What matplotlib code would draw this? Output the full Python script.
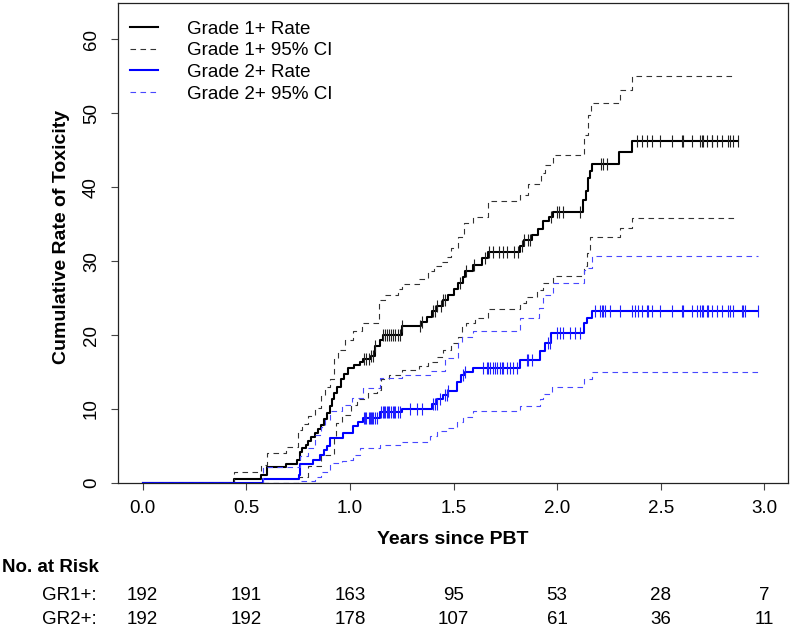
import numpy as np
import matplotlib
matplotlib.use("Agg")
import matplotlib.pyplot as plt
import matplotlib.transforms as mtransforms

plt.rcParams["font.family"] = ["Liberation Sans", "DejaVu Sans"]

# ============================================================
# Data
# ============================================================
# Grade 1+ cumulative rate: times where the curve steps, new value after step
G1_T = [0.44, 0.57, 0.60, 0.69, 0.745, 0.76, 0.77, 0.79, 0.80, 0.81, 0.83, 0.845,
        0.86, 0.875, 0.89, 0.905, 0.915, 0.925, 0.94, 0.955, 0.97, 0.99, 1.02, 1.05,
        1.065, 1.10, 1.12, 1.145, 1.16, 1.25, 1.345, 1.37, 1.394, 1.418, 1.45, 1.475,
        1.50, 1.523, 1.545, 1.556, 1.595, 1.636, 1.667, 1.821, 1.84, 1.88, 1.91, 1.93,
        1.96, 1.979, 2.126, 2.138, 2.151, 2.159, 2.167, 2.30, 2.36]
G1_V = [0.52, 1.04, 2.1, 2.6, 3.1, 4.2, 4.7, 5.2, 5.7, 6.2, 6.8, 7.3,
        7.8, 8.6, 9.4, 10.4, 11.4, 12.2, 13.0, 14.0, 14.8, 15.5, 16.0, 16.3,
        16.7, 17.2, 18.5, 19.4, 20.0, 21.2, 21.8, 22.5, 23.2, 23.9, 24.8, 25.4,
        26.2, 27.0, 27.8, 28.6, 29.5, 30.4, 31.2, 32.0, 32.9, 33.5, 34.3, 35.4,
        36.0, 36.6, 38.3, 39.5, 41.2, 42.2, 43.1, 44.7, 46.3]
G1_END = 2.875

G1_UP_T = [0.44, 0.57, 0.60, 0.69, 0.748, 0.77, 0.80, 0.83, 0.861, 0.88, 0.903, 0.923,
           0.944, 0.975, 1.016, 1.057, 1.14, 1.17, 1.232, 1.25, 1.335, 1.376, 1.407,
           1.438, 1.469, 1.49, 1.52, 1.552, 1.593, 1.665, 1.82, 1.86, 1.923, 1.943,
           1.978, 2.129, 2.149, 2.164, 2.304, 2.36]
G1_UP_V = [1.5, 2.5, 4.0, 4.8, 7.2, 8.0, 9.0, 10.1, 11.7, 13.0, 14.0, 16.7,
           18.0, 19.4, 20.5, 21.7, 24.8, 25.4, 26.2, 26.9, 27.6, 28.6, 29.3,
           29.9, 30.6, 31.8, 33.3, 35.2, 36.0, 38.1, 39.0, 40.4, 41.9, 43.0,
           44.3, 47.1, 49.8, 51.4, 53.2, 55.0]
G1_UP_END = 2.86

G1_LO_T = [0.748, 0.80, 0.861, 0.923, 0.933, 0.964, 1.006, 1.036, 1.088, 1.129, 1.15,
           1.19, 1.253, 1.335, 1.376, 1.418, 1.449, 1.49, 1.52, 1.541, 1.562, 1.603,
           1.665, 1.82, 1.85, 1.902, 1.933, 1.978, 2.129, 2.143, 2.159, 2.304, 2.36]
G1_LO_V = [0.8, 2.25, 3.8, 6.3, 8.1, 9.2, 10.6, 11.3, 12.2, 12.6, 14.0,
           14.6, 15.3, 15.8, 16.4, 17.1, 18.0, 18.9, 19.8, 21.2, 21.6, 22.3,
           23.5, 24.3, 25.2, 26.1, 27.0, 28.0, 29.3, 31.1, 33.3, 34.5, 35.8]
G1_LO_END = 2.86

G1_CENS = [1.07, 1.08, 1.09, 1.10, 1.11, 1.12, 1.16, 1.17, 1.18, 1.19, 1.20, 1.21,
           1.22, 1.23, 1.24, 1.25, 1.34, 1.35, 1.40, 1.41, 1.42, 1.44, 1.45, 1.46,
           1.53, 1.56, 1.60, 1.65, 1.67, 1.69, 1.72, 1.74, 1.76, 1.79, 1.81, 1.83,
           1.84, 1.86, 1.87, 1.97, 2.00, 2.01, 2.03, 2.11, 2.21, 2.22, 2.24, 2.384,
           2.408, 2.435, 2.456, 2.497, 2.553, 2.604, 2.609, 2.649, 2.689, 2.697,
           2.705, 2.721, 2.745, 2.749, 2.77, 2.794, 2.826, 2.834, 2.847, 2.874]

# Grade 2+ cumulative rate
G2_T = [0.583, 0.752, 0.757, 0.824, 0.856, 0.875, 0.888, 0.904, 0.968, 1.016, 1.04,
        1.065, 1.145, 1.25, 1.394, 1.42, 1.45, 1.474, 1.515, 1.535, 1.555, 1.595,
        1.82, 1.916, 1.94, 1.972, 2.129, 2.145, 2.166]
G2_V = [0.52, 1.04, 2.6, 3.15, 3.8, 4.4, 5.0, 6.1, 6.8, 7.65, 8.2,
        8.8, 9.6, 10.0, 10.7, 11.3, 11.9, 12.4, 13.7, 14.6, 15.0, 15.5,
        16.6, 17.8, 18.9, 20.3, 21.6, 22.3, 23.2]
G2_END = 2.971

G2_UP_T = [0.583, 0.758, 0.80, 0.83, 0.861, 0.882, 0.904, 0.964, 1.008, 1.065, 1.145,
           1.25, 1.386, 1.458, 1.523, 1.54, 1.595, 1.82, 1.912, 1.933, 1.978, 2.129,
           2.145, 2.166]
G2_UP_V = [2.2, 3.7, 4.7, 6.5, 7.6, 8.5, 9.7, 10.6, 11.5, 12.8, 14.2,
           14.6, 15.1, 16.9, 18.9, 19.8, 20.5, 22.3, 23.6, 25.4, 27.0, 28.8,
           29.1, 30.7]
G2_UP_END = 2.971

G2_LO_T = [0.758, 0.83, 0.861, 0.904, 0.964, 0.985, 1.016, 1.049, 1.145, 1.25, 1.386,
           1.419, 1.467, 1.515, 1.547, 1.595, 1.82, 1.916, 1.932, 1.973, 2.129, 2.166]
G2_LO_V = [0.3, 0.8, 1.5, 2.7, 3.0, 3.15, 3.8, 4.7, 5.2, 5.6, 6.3,
           7.0, 7.4, 8.3, 8.9, 9.7, 10.4, 11.3, 12.1, 13.0, 14.0, 15.0]
G2_LO_END = 2.971

G2_CENS = [1.07, 1.075, 1.08, 1.09, 1.095, 1.10, 1.105, 1.11, 1.12, 1.13, 1.15,
           1.16, 1.165, 1.17, 1.18, 1.185, 1.19, 1.20, 1.21, 1.215, 1.22, 1.23,
           1.24, 1.29, 1.325, 1.346, 1.403, 1.411, 1.419, 1.435, 1.459, 1.467,
           1.475, 1.547, 1.556, 1.644, 1.66, 1.668, 1.676, 1.692, 1.70, 1.708,
           1.724, 1.732, 1.74, 1.757, 1.773, 1.789, 1.805, 1.853, 1.861, 1.877,
           1.958, 1.966, 1.998, 2.014, 2.03, 2.062, 2.087, 2.11, 2.183, 2.207,
           2.215, 2.223, 2.231, 2.255, 2.303, 2.36, 2.376, 2.392, 2.408, 2.432,
           2.44, 2.456, 2.497, 2.553, 2.604, 2.609, 2.649, 2.673, 2.689, 2.697,
           2.705, 2.721, 2.729, 2.745, 2.77, 2.794, 2.826, 2.834, 2.847, 2.891,
           2.899, 2.907, 2.971]

RISK_TIMES = [0.0, 0.5, 1.0, 1.5, 2.0, 2.5, 3.0]
RISK_GR1 = [192, 191, 163, 95, 53, 28, 7]
RISK_GR2 = [192, 192, 178, 107, 61, 36, 11]

LEGEND_LABELS = ["Grade 1+ Rate", "Grade 1+ 95% CI", "Grade 2+ Rate", "Grade 2+ 95% CI"]


# ============================================================
# Helpers
# ============================================================
def step_xy(times, values, end):
    x = np.concatenate([[0.0], times, [end]])
    y = np.concatenate([[0.0], values, [values[-1]]])
    return x, y


def value_at(times, values, t):
    idx = np.searchsorted(times, t, side="right") - 1
    vals = np.concatenate([[0.0], values])
    return vals[idx + 1]


# ============================================================
# Plot
# ============================================================
fig = plt.figure(figsize=(7.92, 6.26), dpi=100)
ax = fig.add_axes([118 / 792, 1 - 483 / 626, 670 / 792, 480 / 626])

DASH = (5, 4)

x, y = step_xy(G1_T, G1_V, G1_END)
ax.step(x, y, where="post", color="black", lw=1.5, label=LEGEND_LABELS[0])
x, y = step_xy(G1_UP_T, G1_UP_V, G1_UP_END)
ax.step(x, y, where="post", color="#333333", lw=0.8, dashes=DASH, label=LEGEND_LABELS[1])
x, y = step_xy(G1_LO_T, G1_LO_V, G1_LO_END)
ax.step(x, y, where="post", color="#333333", lw=0.8, dashes=DASH)

x, y = step_xy(G2_T, G2_V, G2_END)
ax.step(x, y, where="post", color="#0000ff", lw=1.5, label=LEGEND_LABELS[2])
x, y = step_xy(G2_UP_T, G2_UP_V, G2_UP_END)
ax.step(x, y, where="post", color="#4848ff", lw=0.8, dashes=DASH, label=LEGEND_LABELS[3])
x, y = step_xy(G2_LO_T, G2_LO_V, G2_LO_END)
ax.step(x, y, where="post", color="#4848ff", lw=0.8, dashes=DASH)

# censor marks
c1 = np.array(G1_CENS)
ax.plot(c1, value_at(np.array(G1_T), np.array(G1_V), c1), ls="none", marker="|",
        ms=9, mew=0.8, color="#222222")
c2 = np.array(G2_CENS)
ax.plot(c2, value_at(np.array(G2_T), np.array(G2_V), c2), ls="none", marker="|",
        ms=9, mew=0.8, color="#2020ff")

ax.set_xlim(-0.119, 3.114)
ax.set_ylim(0, 64.9)
ax.set_xticks(RISK_TIMES)
ax.set_xticklabels([f"{t:.1f}" for t in RISK_TIMES])
ax.set_yticks([0, 10, 20, 30, 40, 50, 60])
ax.tick_params(axis="both", direction="out", length=5, width=0.8, labelsize=13.5,
               color="#444444")
ax.tick_params(axis="x", pad=7)
ax.tick_params(axis="y", pad=8)
for lab in ax.get_yticklabels():
    lab.set_rotation(90)
    lab.set_va("center")
for sp in ax.spines.values():
    sp.set_linewidth(0.9)
    sp.set_color("#222222")

leg = ax.legend(loc="upper left", frameon=False, fontsize=13.5, handlelength=1.5,
                handletextpad=1.55, labelspacing=0.24, borderaxespad=0.0,
                borderpad=0.4, bbox_to_anchor=(0.006, 0.979))

fig.text(61 / 792, 1 - 237 / 626, "Cumulative Rate of Toxicity", rotation=90,
         ha="center", va="center", fontsize=14, fontweight="bold")
fig.text(453 / 792, 1 - 539 / 626, "Years since PBT", ha="center", va="center",
         fontsize=14, fontweight="bold")

# number at risk table
fig.text(2 / 792, 1 - 568 / 626, "No. at Risk", ha="left", va="center",
         fontsize=13.5, fontweight="bold")
fig.text(97 / 792, 1 - 596 / 626, "GR1+:", ha="right", va="center", fontsize=13.5)
fig.text(97 / 792, 1 - 619 / 626, "GR2+:", ha="right", va="center", fontsize=13.5)
trans = mtransforms.blended_transform_factory(ax.transData, fig.transFigure)
for t, n1, n2 in zip(RISK_TIMES, RISK_GR1, RISK_GR2):
    fig.text(t, 1 - 596 / 626, str(n1), transform=trans, ha="center", va="center",
             fontsize=13.5)
    fig.text(t, 1 - 619 / 626, str(n2), transform=trans, ha="center", va="center",
             fontsize=13.5)

fig.savefig("out.png", dpi=100)
